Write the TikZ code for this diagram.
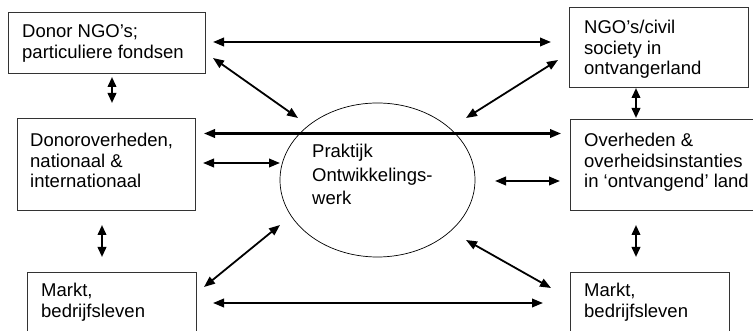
\documentclass[tikz,border=0pt]{standalone}
\usepackage{fontspec}
\setmainfont{Liberation Sans}
\usetikzlibrary{arrows.meta,shapes.geometric}
\newcommand\mylines[1]{\begin{tabular}[t]{@{}l@{}}#1\end{tabular}}
\begin{document}
\begin{tikzpicture}[x=1pt,y=-1pt,
  boxshape/.style={draw=black!80,line width=0.9pt},
  txt/.style={anchor=base west,inner sep=0pt,font=\fontsize{18.5}{20.5}\selectfont},
  etxt/.style={anchor=base west,inner sep=0pt,font=\fontsize{18.5}{23.5}\selectfont},
  conn/.style={line width=2.1pt,{Triangle[length=11pt,width=8.5pt]}-{Triangle[length=11pt,width=8.5pt]}},
  dconn/.style={line width=1.8pt,{Triangle[length=11pt,width=8.5pt]}-{Triangle[length=11pt,width=8.5pt]}},
  vconn/.style={line width=2.1pt,{Triangle[length=10pt,width=8.5pt]}-{Triangle[length=10pt,width=8.5pt]}}]
\useasboundingbox (0,0) rectangle (753,331);
% boxes
\draw[boxshape] (8,12) rectangle (205,73);
\node[inner sep=0pt] (b1) at (106.5,42.5) {};
\draw[boxshape] (569,7) rectangle (748,87);
\node[inner sep=0pt] (b4) at (658.5,47) {};
\draw[boxshape] (17,118) rectangle (195,210);
\node[inner sep=0pt] (b2) at (106,164) {};
\draw[boxshape] (570,119) rectangle (770,210);
\node[inner sep=0pt] (b5) at (670,164.5) {};
\draw[boxshape] (27,272) rectangle (196,345);
\node[inner sep=0pt] (b3) at (111.5,308) {};
\draw[boxshape] (570,272) rectangle (729,345);
\node[inner sep=0pt] (b6) at (649.5,308) {};
% ellipse
\node[draw,ellipse,line width=0.7pt,minimum width=195pt,minimum height=154pt,inner sep=0pt] (e) at (377.5,180) {};
% texts
\node[txt] (t1) at (22,38) {\mylines{Donor NGO’s;\\particuliere fondsen}};
\node[txt] (t4) at (584,34) {\mylines{NGO’s/civil\\society in\\ontvangerland}};
\node[txt] (t2) at (30,147) {\mylines{Donoroverheden,\\nationaal \&\\internationaal}};
\node[txt] (t5) at (584,147) {\mylines{Overheden \&\\overheidsinstanties\\in ‘ontvangend’ land}};
\node[txt] (t3) at (41,297) {\mylines{Markt,\\bedrijfsleven}};
\node[txt] (t6) at (584,297) {\mylines{Markt,\\bedrijfsleven}};
\node[etxt] (te) at (312,158) {\mylines{Praktijk\\Ontwikkelings-\\werk}};
% connector end points
\coordinate (a1s) at (213,42);   \coordinate (a1e) at (551,42);
\coordinate (a2s) at (213,58);   \coordinate (a2e) at (298,118);
\coordinate (a3s) at (558,60);   \coordinate (a3e) at (466,118);
\coordinate (a4s) at (204,133.5);\coordinate (a4e) at (561,133.5);
\coordinate (a5s) at (203,163);  \coordinate (a5e) at (280,163);
\coordinate (a6s) at (495,181);  \coordinate (a6e) at (560,181);
\coordinate (a7s) at (112,77);   \coordinate (a7e) at (112,103);
\coordinate (a8s) at (102,225);  \coordinate (a8e) at (102,257);
\coordinate (a9s) at (636,88);   \coordinate (a9e) at (636,118);
\coordinate (a10s) at (636,225); \coordinate (a10e) at (636,257);
\coordinate (a11s) at (280,225); \coordinate (a11e) at (204,287);
\coordinate (a12s) at (466,240); \coordinate (a12e) at (551,288);
\coordinate (a13s) at (213,303); \coordinate (a13e) at (543,303);
% connectors
\draw[conn] (a1s) -- (a1e);
\draw[dconn] (a2s) -- (a2e);
\draw[dconn] (a3s) -- (a3e);
\draw[conn] (a4s) -- (a4e);
\draw[conn] (a5s) -- (a5e);
\draw[conn] (a6s) -- (a6e);
\draw[vconn] (a7s) -- (a7e);
\draw[vconn] (a8s) -- (a8e);
\draw[vconn] (a9s) -- (a9e);
\draw[vconn] (a10s) -- (a10e);
\draw[dconn] (a11s) -- (a11e);
\draw[dconn] (a12s) -- (a12e);
\draw[conn] (a13s) -- (a13e);
\end{tikzpicture}
\end{document}
